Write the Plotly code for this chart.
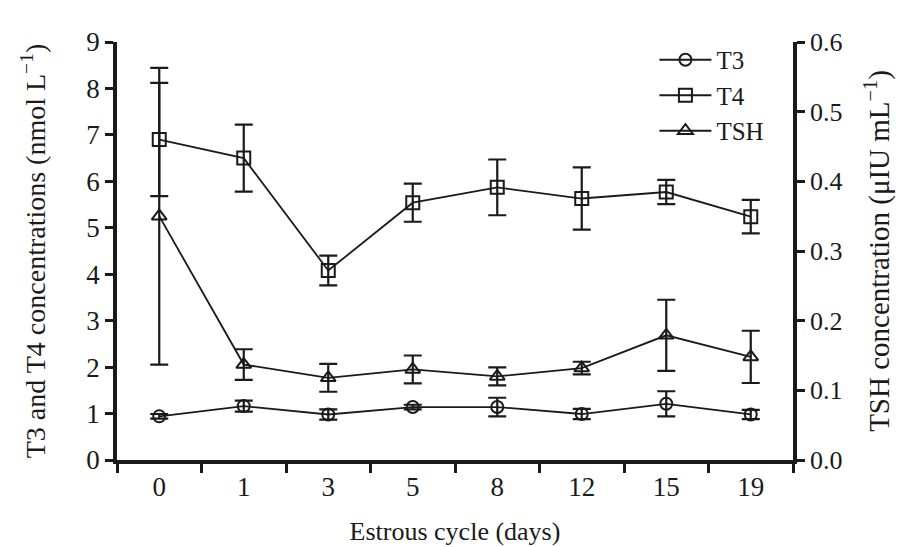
import plotly.graph_objects as go

days = ["0", "1", "3", "5", "8", "12", "15", "19"]

t3 = [0.94, 1.16, 0.98, 1.14, 1.14, 0.99, 1.21, 0.98]
t3_err = [0.05, 0.12, 0.11, 0.05, 0.2, 0.11, 0.27, 0.1]

t4 = [6.9, 6.5, 4.08, 5.54, 5.87, 5.63, 5.77, 5.24]
t4_err = [1.22, 0.72, 0.32, 0.41, 0.6, 0.67, 0.26, 0.36]

tsh = [0.35, 0.137, 0.118, 0.13, 0.12, 0.132, 0.179, 0.148]
tsh_err = [0.213, 0.022, 0.02, 0.02, 0.013, 0.009, 0.051, 0.0375]

font_family = "Liberation Serif"
ink = "#1a1a1a"

def err(vals):
    return dict(type="data", array=vals, visible=True, color=ink, thickness=2.2, width=9)

fig = go.Figure()
fig.add_trace(go.Scatter(
    x=days, y=t3, name="T3", mode="lines+markers", error_y=err(t3_err),
    line=dict(color=ink, width=1.8),
    marker=dict(symbol="circle-open", size=12, color=ink, line=dict(width=2)),
))
fig.add_trace(go.Scatter(
    x=days, y=t4, name="T4", mode="lines+markers", error_y=err(t4_err),
    line=dict(color=ink, width=1.8),
    marker=dict(symbol="square-open", size=13, color=ink, line=dict(width=2)),
))
fig.add_trace(go.Scatter(
    x=days, y=tsh, name="TSH", mode="lines+markers", error_y=err(tsh_err), yaxis="y2",
    line=dict(color=ink, width=1.8),
    marker=dict(symbol="triangle-up-open", size=13, color=ink, line=dict(width=2)),
))

fig.update_layout(
    width=899, height=539,
    margin=dict(l=109, r=114, t=34, b=87),
    paper_bgcolor="white", plot_bgcolor="white",
    font=dict(family=font_family, size=26, color=ink),
    showlegend=True,
    legend=dict(x=0.795, y=1.012, xanchor="left", yanchor="top",
                bgcolor="rgba(0,0,0,0)", font=dict(size=25, family=font_family),
                itemwidth=52),
    xaxis=dict(
        type="category", categoryorder="array", categoryarray=days,
        range=[-0.5, 7.5], tickson="boundaries", ticks="outside", ticklen=9,
        tickwidth=2.5, tickcolor=ink, showline=True, linecolor=ink, linewidth=3.5,
        showgrid=False, zeroline=False, tickfont=dict(size=27), automargin=False,
        title=dict(text="Estrous cycle (days)", font=dict(size=26), standoff=22),
    ),
    yaxis=dict(
        range=[0, 9], tickvals=list(range(10)), ticks="outside", ticklen=8,
        tickwidth=2.5, tickcolor=ink, showline=True, linecolor=ink, linewidth=3.5,
        showgrid=False, zeroline=False, tickfont=dict(size=27), automargin=False,
        title=dict(text="T3 and T4 concentrations (nmol L<sup>−1</sup>)", font=dict(size=28), standoff=34),
    ),
    yaxis2=dict(
        overlaying="y", side="right", range=[0, 0.6],
        tickvals=[0, 0.1, 0.2, 0.3, 0.4, 0.5, 0.6], tickformat=".1f",
        ticks="outside", ticklen=8, tickwidth=2.5, tickcolor=ink,
        showline=True, linecolor=ink, linewidth=3.5, showgrid=False, zeroline=False,
        tickfont=dict(size=26), automargin=False,
        title=dict(text="TSH concentration (μIU mL<sup>−1</sup>)", font=dict(size=29), standoff=28),
    ),
)

fig.write_html("out.html")
